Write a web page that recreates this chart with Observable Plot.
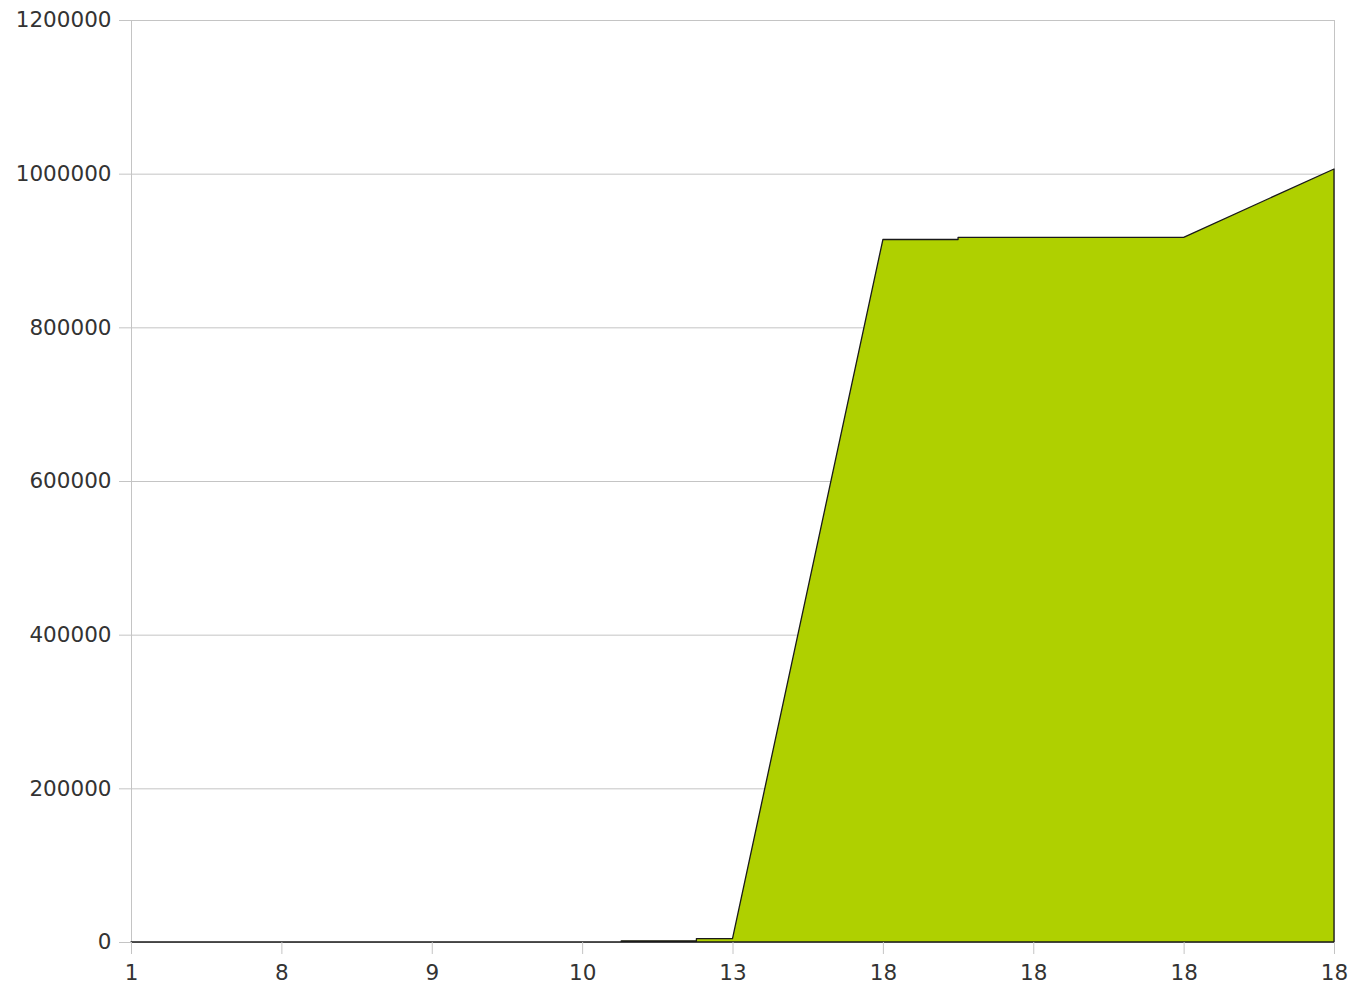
<!DOCTYPE html>
<html>
<head>
<meta charset="utf-8">
<script src="https://cdn.jsdelivr.net/npm/d3@7"></script>
<script src="https://cdn.jsdelivr.net/npm/@observablehq/plot@0.6"></script>
<style>
  html, body { margin: 0; padding: 0; background: #fff; }
  #chart svg { display: block; }
</style>
</head>
<body>
<div id="chart"></div>
<script>
// Category tick labels (one per category position)
const tickLabels = ["1", "8", "9", "10", "13", "18", "18", "18", "18"];
// Series sample positions (in category index units) and values
const xPos   = [0, 3.26, 3.26, 3.76, 3.76, 4, 5, 5.5, 5.5, 7, 8];
const values = [0, 0, 1500, 1500, 4500, 4500, 914300, 914300, 917200, 917200, 1006100];
const yTicks = [0, 200000, 400000, 600000, 800000, 1000000, 1200000];

const data = xPos.map((x, i) => ({x, y: values[i]}));
const grey = "#c4c4c4";

const chart = Plot.plot({
  width: 1358,
  height: 985,
  marginLeft: 131,
  marginRight: 24,
  marginTop: 20,
  marginBottom: 43,
  style: {fontFamily: "DejaVu Sans", fontSize: "21.5px", color: "#333", background: "#fff"},
  x: {domain: [0, tickLabels.length - 1]},
  y: {domain: [0, 1200000]},
  marks: [
    Plot.gridY(yTicks, {stroke: grey, strokeOpacity: 1}),
    Plot.ruleX([0, tickLabels.length - 1], {stroke: grey}),
    Plot.ruleY([1200000], {stroke: grey}),
    Plot.areaY(data, {x: "x", y1: 0, y2: "y", fill: "#afd000", stroke: "#1a1a1a", strokeWidth: 1.3}),
    Plot.axisY(yTicks, {tickSize: 12, tickPadding: 8, stroke: grey, tickFormat: d => String(d), fill: "#333", label: null}),
    Plot.axisX(d3.range(tickLabels.length), {tickSize: 12, tickPadding: 10, stroke: grey, tickFormat: i => tickLabels[i], fill: "#333", label: null})
  ]
});
document.getElementById("chart").appendChild(chart);
</script>
</body>
</html>
